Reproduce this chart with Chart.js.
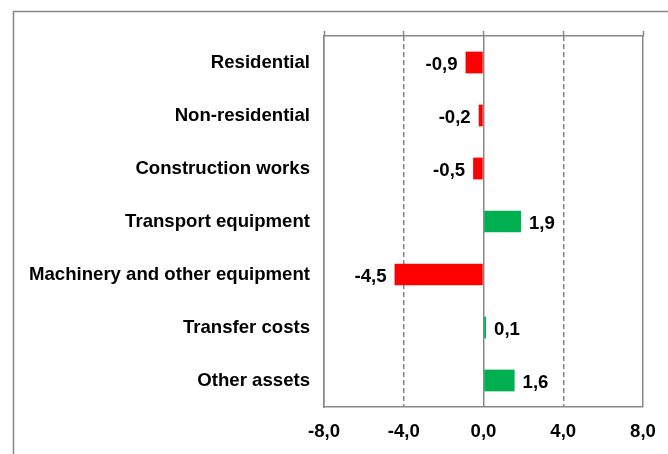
<!DOCTYPE html>
<html>
<head>
<meta charset="utf-8">
<script src="https://cdn.jsdelivr.net/npm/chart.js@4.4.1/dist/chart.umd.min.js"></script>
<style>
  html, body { margin: 0; padding: 0; background: #ffffff; }
  #wrap { width: 668px; height: 454px; position: relative; }
</style>
</head>
<body>
<div id="wrap"><canvas id="c" width="668" height="454"></canvas></div>
<script>
const categories = [
  'Residential',
  'Non-residential',
  'Construction works',
  'Transport equipment',
  'Machinery and other equipment',
  'Transfer costs',
  'Other assets'
];
const values = [-0.9, -0.24, -0.52, 1.88, -4.46, 0.13, 1.56];
const xTicks = [-8, -4, 0, 4, 8];

const FONT = '"Liberation Sans", Arial, sans-serif';
const FSIZE = 18.6;
const GRAY = '#878787';

const fmt = v => v.toFixed(1).replace('.', ',');

const frame = {
  id: 'frame',
  beforeDraw(chart) {
    const ctx = chart.ctx;
    ctx.save();
    ctx.strokeStyle = GRAY;
    ctx.lineWidth = 1.5;
    ctx.beginPath();
    ctx.moveTo(13.5, chart.height + 2);
    ctx.lineTo(13.5, 11.5);
    ctx.lineTo(chart.width + 2, 11.5);
    ctx.stroke();
    ctx.restore();
  }
};

const barLabels = {
  id: 'barLabels',
  afterDatasetsDraw(chart) {
    const ctx = chart.ctx;
    const meta = chart.getDatasetMeta(0);
    ctx.save();
    ctx.font = 'bold ' + FSIZE + 'px ' + FONT;
    ctx.fillStyle = '#000000';
    ctx.textBaseline = 'middle';
    meta.data.forEach((el, i) => {
      const v = values[i];
      if (v < 0) {
        ctx.textAlign = 'right';
        ctx.fillText(fmt(v), el.x - 8, el.y + 2);
      } else {
        ctx.textAlign = 'left';
        ctx.fillText(fmt(v), el.x + 8, el.y + 2);
      }
    });
    ctx.restore();
  }
};

new Chart(document.getElementById('c'), {
  type: 'bar',
  data: {
    labels: categories,
    datasets: [{
      data: values,
      backgroundColor: values.map(v => v < 0 ? '#FF0000' : '#00B050'),
      borderWidth: 0,
      categoryPercentage: 1.0,
      barPercentage: 0.41
    }]
  },
  options: {
    indexAxis: 'y',
    responsive: false,
    animation: false,
    devicePixelRatio: 1,
    layout: { padding: { left: 0, top: 31, right: 25, bottom: 0 } },
    plugins: {
      legend: { display: false },
      tooltip: { enabled: false }
    },
    scales: {
      x: {
        type: 'linear',
        position: 'bottom',
        min: -8,
        max: 8,
        afterBuildTicks: s => { s.ticks = xTicks.map(v => ({ value: v })); },
        afterFit: s => { s.height = 47; s.paddingRight = 0; s.paddingLeft = 0; },
        grid: {
          color: GRAY,
          lineWidth: 1.5,
          drawTicks: false
        },
        border: {
          color: GRAY,
          width: 1.5,
          dash: c => (c.tick && (c.tick.value === -4 || c.tick.value === 4)) ? [5, 3] : []
        },
        ticks: {
          padding: 14,
          color: '#000000',
          font: { family: FONT, size: FSIZE, weight: 'bold' },
          callback: v => fmt(v)
        }
      },
      x2: {
        type: 'linear',
        position: 'top',
        min: -8,
        max: 8,
        afterBuildTicks: s => { s.ticks = xTicks.map(v => ({ value: v })); },
        afterFit: s => { s.height = 5; s.paddingRight = 0; s.paddingLeft = 0; },
        grid: {
          drawOnChartArea: false,
          drawTicks: true,
          tickLength: 5,
          tickColor: GRAY,
          tickWidth: 1.5
        },
        border: { color: GRAY, width: 1.5 },
        ticks: { display: false }
      },
      y: {
        type: 'category',
        afterFit: s => { s.width = 324; },
        grid: { display: false, drawTicks: false },
        border: { color: GRAY, width: 1.5 },
        ticks: {
          padding: 14,
          color: '#000000',
          font: { family: FONT, size: FSIZE, weight: 'bold' }
        }
      }
    }
  },
  plugins: [frame, barLabels]
});
</script>
</body>
</html>
